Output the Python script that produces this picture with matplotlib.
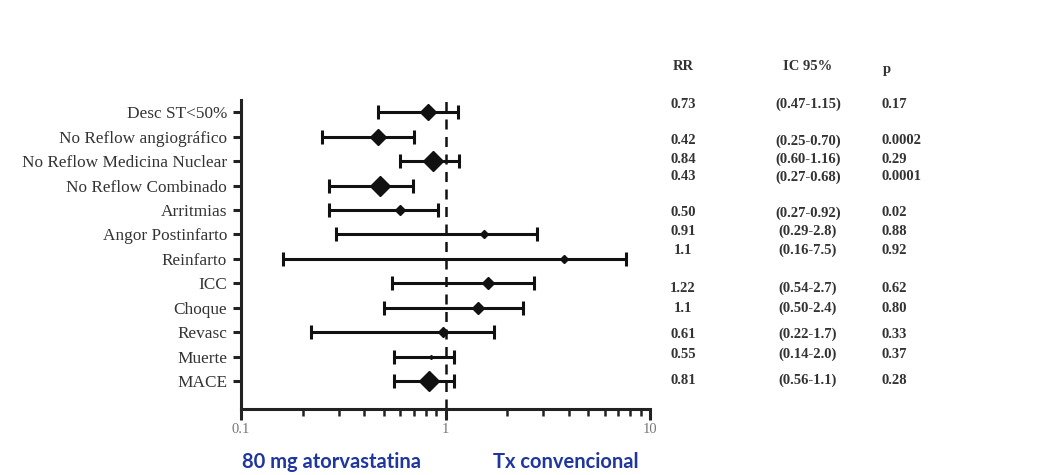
import matplotlib
matplotlib.use("Agg")
import matplotlib.pyplot as plt
from matplotlib.ticker import LogLocator, NullFormatter, FixedLocator
import numpy as np

labels = ["Desc ST<50%", "No Reflow angiográfico", "No Reflow Medicina Nuclear",
          "No Reflow Combinado", "Arritmias", "Angor Postinfarto", "Reinfarto",
          "ICC", "Choque", "Revasc", "Muerte", "MACE"]
point = [0.82, 0.47, 0.87, 0.48, 0.60, 1.55, 3.8, 1.62, 1.45, 0.97, 0.85, 0.83]
ci_low = [0.47, 0.25, 0.60, 0.27, 0.27, 0.29, 0.16, 0.545, 0.50, 0.22, 0.56, 0.56]
ci_high = [1.15, 0.70, 1.16, 0.69, 0.92, 2.8, 7.6, 2.72, 2.4, 1.72, 1.1, 1.1]

rr_text = ["0.73", "0.42", "0.84", "0.43", "0.50", "0.91", "1.1", "1.22", "1.1",
           "0.61", "0.55", "0.81"]
ic_text = ["(0.47-1.15)", "(0.25-0.70)", "(0.60-1.16)", "(0.27-0.68)", "(0.27-0.92)",
           "(0.29-2.8)", "(0.16-7.5)", "(0.54-2.7)", "(0.50-2.4)", "(0.22-1.7)",
           "(0.14-2.0)", "(0.56-1.1)"]
p_text = ["0.17", "0.0002", "0.29", "0.0001", "0.02", "0.88", "0.92", "0.62", "0.80",
          "0.33", "0.37", "0.28"]

# marker size per row (bigger diamonds for the main endpoints)
msizes = [8, 8, 10, 10, 5, 4, 4, 6, 6, 5, 2, 10]
# table row positions in pixels from top (table does not line up with rows)
table_y = [104, 141, 159, 177, 213, 231, 250, 288, 308, 334, 354, 380]

W, H = 1052, 475
fig = plt.figure(figsize=(W / 100, H / 100), dpi=100)
ax = fig.add_axes([241 / W, 1 - 409 / H, (650 - 241) / W, (409 - 100) / H])

y = np.arange(len(labels))
lo = np.array(point) - np.array(ci_low)
hi = np.array(ci_high) - np.array(point)
ax.errorbar(point, y, xerr=[lo, hi], fmt="none", ecolor="#111111",
            elinewidth=2.2, capsize=5, capthick=2.2)
for xi, yi, ms in zip(point, y, msizes):
    ax.plot(xi, yi, marker="D", color="#111111", markersize=ms, zorder=3)

ax.axvline(1, color="#111111", lw=1.8, ls=(0, (4, 3)), zorder=1)

ax.set_xscale("log")
ax.set_xlim(0.1, 10)
ax.set_ylim(len(labels) - 1 + 1.14, -0.5)

ax.spines["top"].set_visible(False)
ax.spines["right"].set_visible(False)
ax.spines["left"].set_linewidth(2.2)
ax.spines["bottom"].set_linewidth(2.2)
ax.spines["left"].set_color("#222222")
ax.spines["bottom"].set_color("#222222")

ax.set_yticks(y)
ax.set_yticklabels(labels, family="Liberation Serif", fontsize=12.4, color="#333333")
ax.tick_params(axis="y", length=6, width=2.2, color="#222222", pad=4)

ax.xaxis.set_major_locator(FixedLocator([0.1, 1, 10]))
ax.xaxis.set_minor_locator(LogLocator(base=10, subs=np.arange(2, 10)))
ax.xaxis.set_minor_formatter(NullFormatter())
ax.set_xticklabels(["0.1", "1", "10"], family="Liberation Serif", fontsize=10.5,
                   color="#777777")
ax.tick_params(axis="x", which="major", length=8, width=2.2, color="#222222", pad=2)
ax.tick_params(axis="x", which="minor", length=5, width=1.8, color="#222222")

# table on the right
tfont = dict(family="Liberation Serif", fontsize=10.5, fontweight="bold", color="#333333")
fig.text(683 / W, 1 - 67 / H, "RR", ha="center", va="center", **tfont)
fig.text(808 / W, 1 - 67 / H, "IC 95%", ha="center", va="center", **tfont)
fig.text(883 / W, 1 - 69 / H, "p", ha="left", va="center", **tfont)
for ty, r, ic, p in zip(table_y, rr_text, ic_text, p_text):
    fig.text(683 / W, 1 - ty / H, r, ha="center", va="center", **tfont)
    fig.text(808 / W, 1 - ty / H, ic, ha="center", va="center", **tfont)
    fig.text(881 / W, 1 - ty / H, p, ha="left", va="center", **tfont)

blue = "#1f35a0"
fig.text(332 / W, 1 - 462 / H, "80 mg atorvastatina", ha="center", va="center",
         family="Lato", fontweight="bold", fontsize=14.5, color=blue)
fig.text(566 / W, 1 - 462 / H, "Tx convencional", ha="center", va="center",
         family="Lato", fontweight="bold", fontsize=14.5, color=blue)

fig.savefig("out.png", dpi=100)
